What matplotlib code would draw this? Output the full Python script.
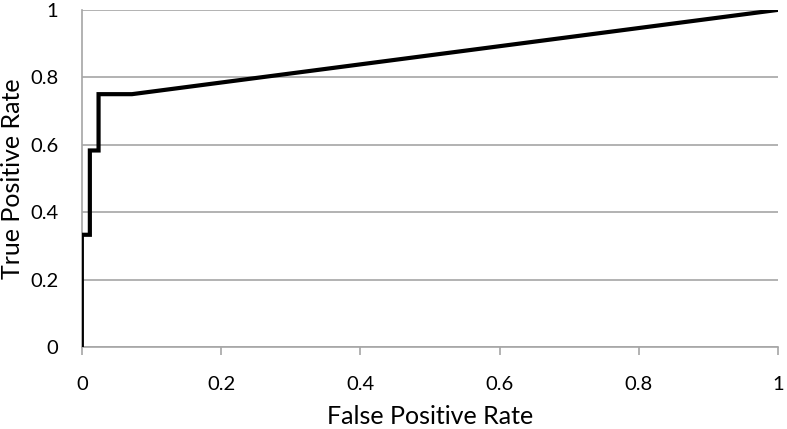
import matplotlib
matplotlib.use('Agg')
import matplotlib.pyplot as plt

plt.rcParams['font.family'] = ['Lato', 'DejaVu Sans']

FPR = [0.0, 0.0, 0.0115, 0.0115, 0.024, 0.024, 0.072, 1.0]
TPR = [0.0, 0.333, 0.333, 0.583, 0.583, 0.75, 0.75, 1.0]
X_TICKS = [0, 0.2, 0.4, 0.6, 0.8, 1]
X_TICK_LABELS = ['0', '0.2', '0.4', '0.6', '0.8', '1']
Y_TICKS = [0, 0.2, 0.4, 0.6, 0.8, 1]
Y_TICK_LABELS = ['0', '0.2', '0.4', '0.6', '0.8', '1']

GRID = '#a6a6a6'

fig = plt.figure(figsize=(7.87, 4.29), dpi=100)
ax = fig.add_axes([0.104, 0.191, 0.8846, 0.786])

ax.plot(FPR, TPR, color='black', linewidth=3, solid_joinstyle='miter', zorder=3)

ax.set_xlim(0, 1)
ax.set_ylim(0, 1)
ax.set_xticks(X_TICKS)
ax.set_xticklabels(X_TICK_LABELS)
ax.set_yticks(Y_TICKS)
ax.set_yticklabels(Y_TICK_LABELS)

ax.grid(axis='y', color=GRID, linewidth=1.2)
ax.set_axisbelow(True)
for s in ['top', 'right']:
    ax.spines[s].set_visible(False)
for s in ['left', 'bottom']:
    ax.spines[s].set_color(GRID)
    ax.spines[s].set_linewidth(1.2)

ax.tick_params(axis='y', length=0, pad=17, labelsize=14.5)
ax.tick_params(axis='x', direction='out', length=6, color=GRID, width=1.2,
               pad=15, labelsize=14.5)

ax.set_xlabel('False Positive Rate', fontsize=18, va='center')
ax.set_ylabel('True Positive Rate', fontsize=18, va='center')
ax.xaxis.set_label_coords(0.5, -0.205)
ax.yaxis.set_label_coords(-0.1, 0.5)

fig.savefig('out.png', dpi=100)
